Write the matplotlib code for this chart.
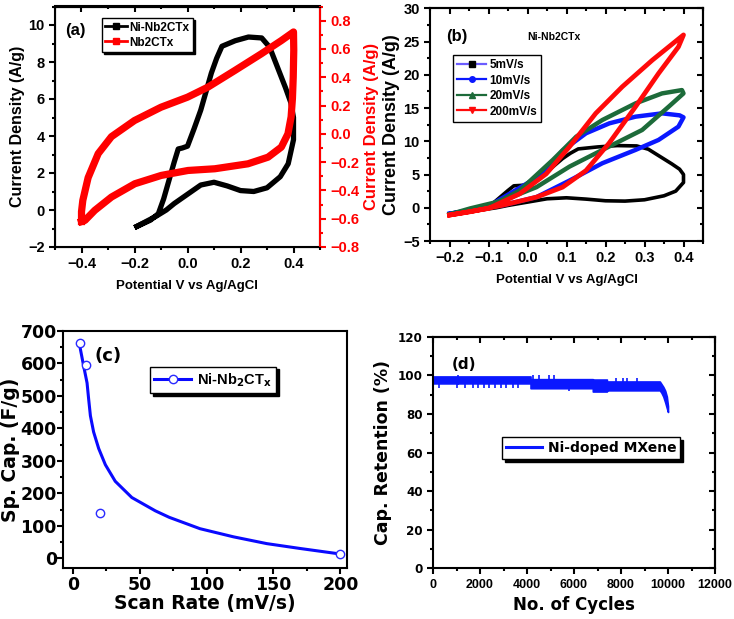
import matplotlib
matplotlib.use("Agg")
import matplotlib.pyplot as plt
from matplotlib.lines import Line2D
from matplotlib.ticker import MultipleLocator, AutoMinorLocator

plt.rcParams['font.family'] = ['Liberation Sans', 'DejaVu Sans']
plt.rcParams['font.weight'] = 'bold'

# ---------------- data ----------------
# (a)/(b) Ni-Nb2CTx at 5 mV/s
ni5_x = [-0.20, -0.16, -0.12, -0.08, -0.05, 0.00, 0.05, 0.10, 0.15, 0.20, 0.25, 0.30, 0.35, 0.38,
         0.40, 0.40, 0.39, 0.37, 0.34, 0.31, 0.28, 0.23, 0.18, 0.13, 0.11, 0.09, 0.07, 0.05, 0.025,
         0.00, -0.02, -0.035, -0.05, -0.07, -0.09, -0.11, -0.14, -0.17, -0.20]
ni5_y = [-0.95, -0.65, -0.35, 0.0, 0.35, 0.85, 1.35, 1.5, 1.3, 1.05, 1.0, 1.2, 1.8, 2.5,
         3.8, 5.0, 5.8, 6.6, 7.7, 8.8, 9.3, 9.35, 9.15, 8.85, 8.2, 7.4, 6.4, 5.4, 4.4,
         3.45, 3.35, 3.3, 2.6, 1.6, 0.6, -0.2, -0.55, -0.75, -0.95]
# (a) Nb2CTx (right axis)
nb_x = [-0.40, -0.400, -0.395, -0.375, -0.337, -0.287, -0.20, -0.10, 0.00, 0.077, 0.178, 0.278, 0.354, 0.40,
        0.401, 0.399, 0.396, 0.391, 0.379, 0.354, 0.304, 0.228, 0.103, 0.002, -0.099, -0.199, -0.287,
        -0.35, -0.387, -0.40]
nb_y = [-0.62, -0.55, -0.47, -0.31, -0.14, -0.02, 0.094, 0.188, 0.259, 0.33, 0.447, 0.565, 0.659, 0.72,
        0.59, 0.40, 0.25, 0.12, 0.0, -0.094, -0.165, -0.212, -0.247, -0.259, -0.294, -0.353, -0.447,
        -0.541, -0.612, -0.62]
# (b) other scan rates
s10_x = [-0.20, -0.104, -0.02, 0.04, 0.09, 0.15, 0.21, 0.277, 0.345, 0.39, 0.40,
         0.387, 0.336, 0.277, 0.192, 0.108, 0.023, -0.062, -0.147, -0.20]
s10_y = [-0.9, 0.1, 3.0, 5.1, 8.6, 11.2, 12.7, 13.7, 14.2, 13.9, 13.6,
         12.2, 10.2, 8.7, 6.7, 4.1, 1.6, 0.4, -0.4, -0.9]
s20_x = [-0.20, -0.10, -0.02, 0.065, 0.125, 0.192, 0.277, 0.345, 0.396, 0.40,
         0.362, 0.294, 0.209, 0.108, 0.023, -0.062, -0.147, -0.20]
s20_y = [-1.0, 0.1, 2.6, 7.2, 10.7, 13.2, 15.7, 17.2, 17.7, 17.2,
         15.2, 11.7, 9.2, 6.2, 3.1, 1.1, -0.1, -1.0]
s200_x = [-0.20, -0.10, -0.02, 0.048, 0.108, 0.175, 0.243, 0.32, 0.40,
          0.387, 0.336, 0.277, 0.209, 0.15, 0.09, 0.023, -0.062, -0.147, -0.20]
s200_y = [-1.1, -0.1, 2.1, 5.1, 9.2, 14.2, 18.2, 22.2, 26.0,
          24.2, 20.2, 15.2, 9.7, 5.6, 3.1, 1.6, 0.4, -0.6, -1.1]
# (c) specific capacitance
rate = [5, 10, 20, 200]
spcap = [662, 596, 140, 13]
fit_rate = [5, 8, 10.5, 11.7, 13, 15.4, 19.2, 24.2, 31.6, 44, 61.6, 72, 95, 120, 145, 170, 200]
fit_cap = [655, 591, 540, 490, 439, 389, 338, 288, 237, 187, 146, 126, 91, 66, 45, 30, 13]
# (d) cycling retention: band envelope and spikes
d_cycles = [0, 4150, 4150, 6800, 6800, 7400, 7400, 9650, 9720, 9800, 9880, 9950, 10000]
d_hi = [99.4, 99.4, 98.0, 98.0, 97.8, 97.8, 96.8, 96.8, 95.5, 94.0, 92.0, 89.0, 84.0]
d_lo = [95.8, 95.8, 93.3, 93.3, 91.6, 91.6, 92.2, 92.2, 91.0, 89.0, 86.0, 83.0, 81.0]
low_spike_cyc = [250, 1000, 1350, 1700, 1900, 2150, 2400, 2650, 2900, 3100, 3400, 3600, 5800]
low_spike_val = [93.6, 93.6, 93.6, 93.6, 93.6, 93.6, 93.6, 93.6, 93.6, 93.6, 93.6, 93.6, 91.8]
high_spike_cyc = [1050, 4250, 4500, 4950, 5150, 7800, 8100, 8250, 8700]
high_spike_val = [100.2, 100.2, 100.2, 100.2, 100.2, 98.6, 98.6, 98.6, 98.6]

W, H = 734, 619
fig = plt.figure(figsize=(W / 100, H / 100), dpi=100)
WIDE = ['DejaVu Sans']
NARROW = ['Liberation Sans']

def rect(l, t, r, b):
    return [l / W, 1 - b / H, (r - l) / W, (b - t) / H]

def style(ax, size, xmaj, ymaj, lw=1.5, mirror=True, family=None, pad=3.5):
    for s in ax.spines.values():
        s.set_linewidth(lw)
    ax.tick_params(which='both', direction='out', width=lw, labelsize=size, pad=pad)
    ax.tick_params(which='major', length=4)
    ax.tick_params(which='minor', length=2.5)
    ax.xaxis.set_major_locator(MultipleLocator(xmaj))
    ax.yaxis.set_major_locator(MultipleLocator(ymaj))
    ax.xaxis.set_minor_locator(AutoMinorLocator(2))
    ax.yaxis.set_minor_locator(AutoMinorLocator(2))
    if mirror:
        sec = ax.secondary_xaxis('top')
        sec.xaxis.set_major_locator(MultipleLocator(xmaj))
        sec.xaxis.set_minor_locator(AutoMinorLocator(2))
        sec.tick_params(which='both', direction='in', width=lw, labeltop=False)
        sec.tick_params(which='major', length=4)
        sec.tick_params(which='minor', length=2.5)
        sec.spines['top'].set_linewidth(lw)
    for lab in ax.get_xticklabels() + ax.get_yticklabels():
        lab.set_fontweight('bold')
        if family:
            lab.set_family(family)

def right_ticks(ax, ymaj, lw=1.5):
    sec = ax.secondary_yaxis('right')
    sec.yaxis.set_major_locator(MultipleLocator(ymaj))
    sec.yaxis.set_minor_locator(AutoMinorLocator(2))
    sec.tick_params(which='both', direction='in', width=lw, labelright=False)
    sec.tick_params(which='major', length=4)
    sec.tick_params(which='minor', length=2.5)
    sec.spines['right'].set_linewidth(lw)

# ---------------- (a) ----------------
axa = fig.add_axes(rect(55, 6.5, 320, 247))
axa.plot(ni5_x, ni5_y, color='black', lw=3.8, solid_capstyle='butt')
axa.set_xlim(-0.5, 0.5)
axa.set_ylim(-2, 11)
style(axa, 10.5, 0.2, 2)
axa.set_xticks([-0.4, -0.2, 0.0, 0.2, 0.4])
for lab in axa.get_xticklabels():
    lab.set_fontweight('bold')
axa.set_xlabel('Potential V vs Ag/AgCl', fontsize=9.5, fontweight='bold', labelpad=6)
axa.set_ylabel('Current Density (A/g)', fontsize=11.5, fontweight='bold', labelpad=2)
axa2 = axa.twinx()
axa2.plot(nb_x, nb_y, color='red', lw=5.2)
axa2.set_ylim(-0.8, 0.9)
axa2.yaxis.set_major_locator(MultipleLocator(0.2))
axa2.yaxis.set_minor_locator(AutoMinorLocator(2))
axa2.tick_params(axis='y', which='both', direction='out', width=1.5, colors='red', labelsize=10.5)
axa2.tick_params(which='major', length=4)
axa2.tick_params(which='minor', length=2.5)
axa2.spines['right'].set_color('red')
axa2.spines['right'].set_linewidth(1.5)
for lab in axa2.get_yticklabels():
    lab.set_fontweight('bold')
axa2.set_ylabel('Current Density (A/g)', fontsize=12, fontweight='bold', color='red', labelpad=3)
axa.text(0.04, 0.88, '(a)', transform=axa.transAxes, fontsize=12, fontweight='bold')
ha = [Line2D([], [], color='black', lw=2, marker='s', markersize=5),
      Line2D([], [], color='red', lw=2, marker='s', markersize=5)]
axa2.legend(ha, ['Ni-Nb2CTx', 'Nb2CTx'], loc='upper left', bbox_to_anchor=(0.177, 0.952),
            borderaxespad=0, prop={'weight': 'bold', 'size': 8.5}, fancybox=False,
            edgecolor='black', framealpha=1, handlelength=1.8, handletextpad=0.2,
            borderpad=0.3, labelspacing=0.25,
            shadow={'color': 'black', 'alpha': 1, 'ox': 1.5, 'oy': -1.5})

# ---------------- (b) ----------------
axb = fig.add_axes(rect(430, 8.3, 703, 241))
axb.plot(ni5_x, ni5_y, color='black', lw=2.6)
axb.plot(s10_x, s10_y, color='#0a18ff', lw=3.2)
axb.plot(s20_x, s20_y, color='#1d6b3a', lw=3.2)
axb.plot(s200_x, s200_y, color='#ff0a0a', lw=3.4)
axb.set_xlim(-0.25, 0.45)
axb.set_ylim(-5, 30)
style(axb, 10.5, 0.1, 5)
right_ticks(axb, 5)
axb.set_xticks([-0.2, -0.1, 0.0, 0.1, 0.2, 0.3, 0.4])
for lab in axb.get_xticklabels():
    lab.set_fontweight('bold')
axb.set_xlabel('Potential V vs Ag/AgCl', fontsize=9.5, fontweight='bold', labelpad=6)
axb.set_ylabel('Current Density (A/g)', fontsize=13, fontweight='bold', labelpad=2)
axb.text(0.06, 0.86, '(b)', transform=axb.transAxes, fontsize=12, fontweight='bold')
axb.text(0.355, 0.865, 'Ni-Nb2CTx', transform=axb.transAxes, fontsize=7.5, fontweight='bold')
hb = [Line2D([], [], color='#6b5cff', lw=1.6, marker='s', markersize=4, markerfacecolor='black', markeredgecolor='black'),
      Line2D([], [], color='#0a18ff', lw=1.6, marker='o', markersize=4),
      Line2D([], [], color='#1d6b3a', lw=1.6, marker='^', markersize=4.5),
      Line2D([], [], color='#ff0a0a', lw=1.6, marker='v', markersize=4.5)]
axb.legend(hb, ['5mV/s', '10mV/s', '20mV/s', '200mV/s'], loc='upper left', bbox_to_anchor=(0.085, 0.80),
           borderaxespad=0, prop={'weight': 'bold', 'size': 8.5}, fancybox=False, edgecolor='black',
           framealpha=1, handlelength=2.4, handletextpad=0.3, borderpad=0.35, labelspacing=0.3)

# ---------------- (c) ----------------
axc = fig.add_axes(rect(63, 331, 347, 568.3))
axc.plot(fit_rate, fit_cap, color='#0a0aff', lw=2.2)
axc.plot(rate, spcap, linestyle='none', marker='o', markersize=6, markerfacecolor='white',
         markeredgecolor='#2a2aff', markeredgewidth=1.0)
axc.set_xlim(-7.5, 205)
axc.set_ylim(-31, 700)
style(axc, 12.5, 50, 100, mirror=False, family=WIDE, pad=1.5)
axc.tick_params(axis='y', pad=0.5)
axc.set_xlabel('Scan Rate (mV/s)', fontsize=13.5, fontweight='bold', family=WIDE, labelpad=0)
axc.set_ylabel('Sp. Cap. (F/g)', fontsize=13.5, fontweight='bold', family=WIDE, labelpad=0)
axc.text(0.11, 0.875, '(c)', transform=axc.transAxes, fontsize=13, fontweight='bold', family=WIDE)
hc = [Line2D([], [], color='#0a0aff', lw=2.2, marker='o', markersize=6, markerfacecolor='white',
             markeredgecolor='#2a2aff')]
axc.legend(hc, ['Ni-Nb$_\\mathbf{2}$CT$_\\mathbf{x}$'], loc='upper left', bbox_to_anchor=(0.306, 0.85),
           borderaxespad=0, prop={'weight': 'bold', 'size': 10.5}, fancybox=False, edgecolor='black',
           framealpha=1, handlelength=2.5, handletextpad=0.4, borderpad=0.3,
           shadow={'color': 'black', 'alpha': 1, 'ox': 2, 'oy': -2})

# ---------------- (d) ----------------
axd = fig.add_axes(rect(433, 336.7, 715, 568.3))
axd.fill_between(d_cycles, d_lo, d_hi, color='#0a18ff', lw=1.2, edgecolor='#0a18ff')
axd.vlines(low_spike_cyc, low_spike_val, [d_lo[0]] * len(low_spike_cyc), color='#0a18ff', lw=1.2)
axd.vlines(high_spike_cyc, [95] * len(high_spike_cyc), high_spike_val, color='#0a18ff', lw=1.2)
axd.set_xlim(0, 12000)
axd.set_ylim(0, 120)
style(axd, 8.6, 2000, 20, family=WIDE)
for lab in axd.get_xticklabels():
    lab.set_family(NARROW)
    lab.set_fontsize(9)
right_ticks(axd, 20)
axd.set_xlabel('No. of Cycles', fontsize=12, fontweight='bold', family=WIDE, labelpad=4)
axd.set_ylabel('Cap. Retention (%)', fontsize=12.5, fontweight='bold', family=WIDE, labelpad=4)
axd.text(0.065, 0.86, '(d)', transform=axd.transAxes, fontsize=11, fontweight='bold', family=WIDE)
hd = [Line2D([], [], color='#0a18ff', lw=2.2)]
axd.legend(hd, ['Ni-doped MXene'], loc='upper left', bbox_to_anchor=(0.244, 0.568),
           borderaxespad=0, prop={'weight': 'bold', 'size': 10, 'family': WIDE}, fancybox=False,
           edgecolor='black', framealpha=1, handlelength=2.6, handletextpad=0.4, borderpad=0.3,
           shadow={'color': 'black', 'alpha': 1, 'ox': 2, 'oy': -2})

fig.savefig('out.png', dpi=100)
